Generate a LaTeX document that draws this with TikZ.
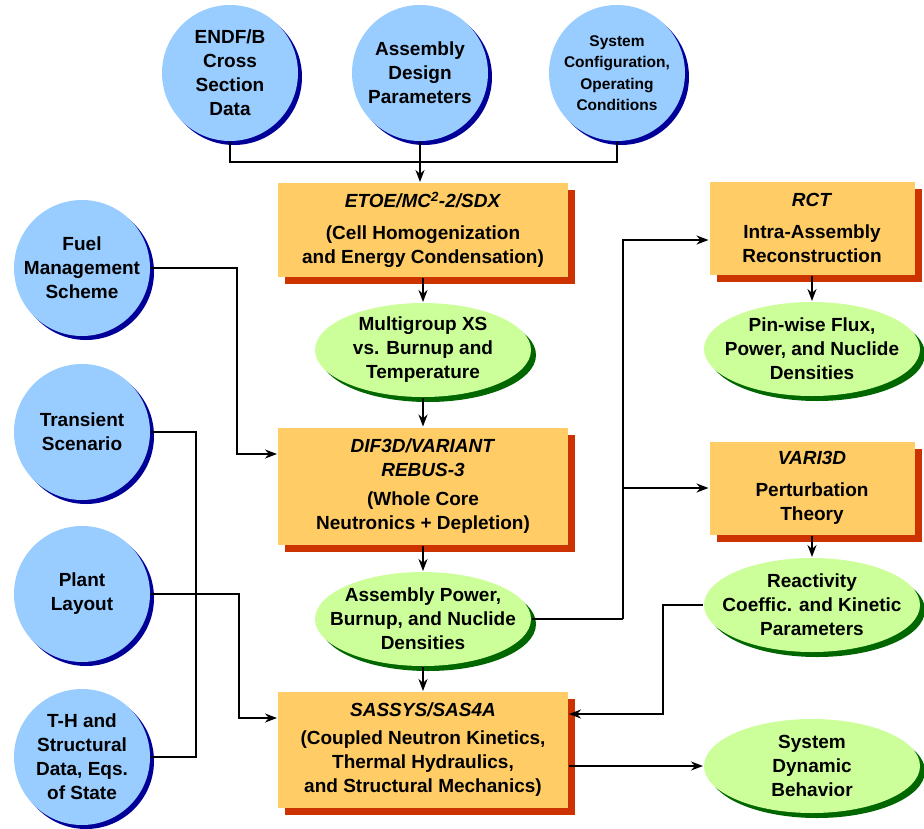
\documentclass[tikz,border=0pt]{standalone}
\usepackage{fontspec}
\setmainfont{Liberation Sans}
\usetikzlibrary{shapes.geometric,shadows,arrows.meta}
\definecolor{inblue}{RGB}{153,204,255}
\definecolor{inshade}{RGB}{0,0,153}
\definecolor{codefill}{RGB}{255,204,102}
\definecolor{codeshade}{RGB}{204,51,0}
\definecolor{outgreen}{RGB}{204,255,153}
\definecolor{outshade}{RGB}{0,102,0}
\tikzset{
  src/.style={circle, fill=inblue, minimum size=136pt, inner sep=-4pt, align=center,
    general shadow={fill=inshade, shadow xshift=4pt, shadow yshift=-4pt}},
  code/.style={rectangle, fill=codefill, minimum width=290pt, inner sep=4pt, align=center,
    general shadow={fill=codeshade, shadow xshift=7pt, shadow yshift=-7pt}},
  res/.style={ellipse, fill=outgreen, minimum width=216pt, minimum height=94pt,
    inner xsep=-22pt, inner ysep=-4pt, align=center,
    general shadow={fill=outshade, shadow xshift=5pt, shadow yshift=-5pt}}
}
\begin{document}
\begin{tikzpicture}[x=1pt, y=-1pt, font=\bfseries\fontsize{19}{24}\selectfont,
    >={Stealth[length=12pt,width=9pt]}, line width=2pt]
				\useasboundingbox (0,0) rectangle (924,828);
				% input data
				\node[src] (endf) at (230,73) {ENDF/B\\Cross\\Section\\Data};
				\node[src] (asm) at (420,73) {Assembly\\Design\\Parameters};
				\node[src, font=\bfseries\fontsize{15.5}{21.5}\selectfont] (sys) at (617,73) {System\\Configuration,\\Operating\\Conditions};
				\node[src] (fuel) at (82,268) {Fuel\\Management\\Scheme};
				\node[src] (trans) at (82,432) {Transient\\Scenario};
				\node[src] (plant) at (82,594) {Plant\\Layout};
				\node[src] (th) at (82,757) {T-H and\\Structural\\Data, Eqs.\\of State};
				% codes
				\node[code, minimum height=94pt] (etoe) at (423,230) {\textit{ETOE/MC\textsuperscript{2}-2/SDX}\\[8pt](Cell Homogenization\\and Energy Condensation)};
				\node[code, minimum height=117pt] (dif) at (423,486) {\textit{DIF3D/VARIANT}\\\textit{REBUS-3}\\[5pt](Whole Core\\Neutronics + Depletion)};
				\node[code, minimum height=116pt] (sas) at (423,750) {\textit{SASSYS/SAS4A}\\[4pt](Coupled Neutron Kinetics,\\Thermal Hydraulics,\\and Structural Mechanics)};
				\node[code, minimum width=205pt, minimum height=93pt] (rct) at (812,228) {\textit{RCT}\\[8pt]Intra-Assembly\\Reconstruction};
				\node[code, minimum width=205pt, minimum height=93pt] (vari) at (812,488) {\textit{VARI3D}\\[8pt]Perturbation\\Theory};
				% results
				\node[res] (xs) at (423,350) {Multigroup XS\\vs. Burnup and\\Temperature};
				\node[res] (pow) at (423,619) {Assembly Power,\\Burnup, and Nuclide\\Densities};
				\node[res] (pin) at (812,349) {Pin-wise Flux,\\Power, and Nuclide\\Densities};
				\node[res] (react) at (812,605) {Reactivity\\Coeffic. and Kinetic\\Parameters};
				\node[res] (dyn) at (812,766) {System\\Dynamic\\Behavior};
				% connections
				\coordinate (bus) at (420,162);
				\draw (endf.south) -- (endf.south |- bus) -| (sys.south);
				\draw[->] (asm.south) -- (asm.south |- etoe.north);
				\draw[->] (etoe) -- (xs);
				\draw[->] (xs) -- (dif);
				\draw[->] (fuel.east) -- ++(86,0) |- ([yshift=32pt]dif.west);
				\draw (trans.east) -- ++(45,0) |- (th.east);
				\draw[->] (plant.east) -- ++(88,0) |- ([yshift=32pt]sas.west);
				\draw[->] (dif) -- (pow);
				\draw[->] (pow) -- (sas);
				\draw (pow.east) -- ++(91,0) coordinate (split);
				\draw[->] (split) |- ([yshift=-12pt]rct.west);
				\draw[->] (split |- vari.west) -- (vari.west);
				\draw[->] (rct) -- (pin);
				\draw[->] (vari) -- (react);
				\draw[->] (react.west) -- ++(-40,0) |- ([yshift=36pt]sas.east);
				\draw[->] (sas.east |- dyn.west) -- (dyn.west);
			\end{tikzpicture}
\end{document}
